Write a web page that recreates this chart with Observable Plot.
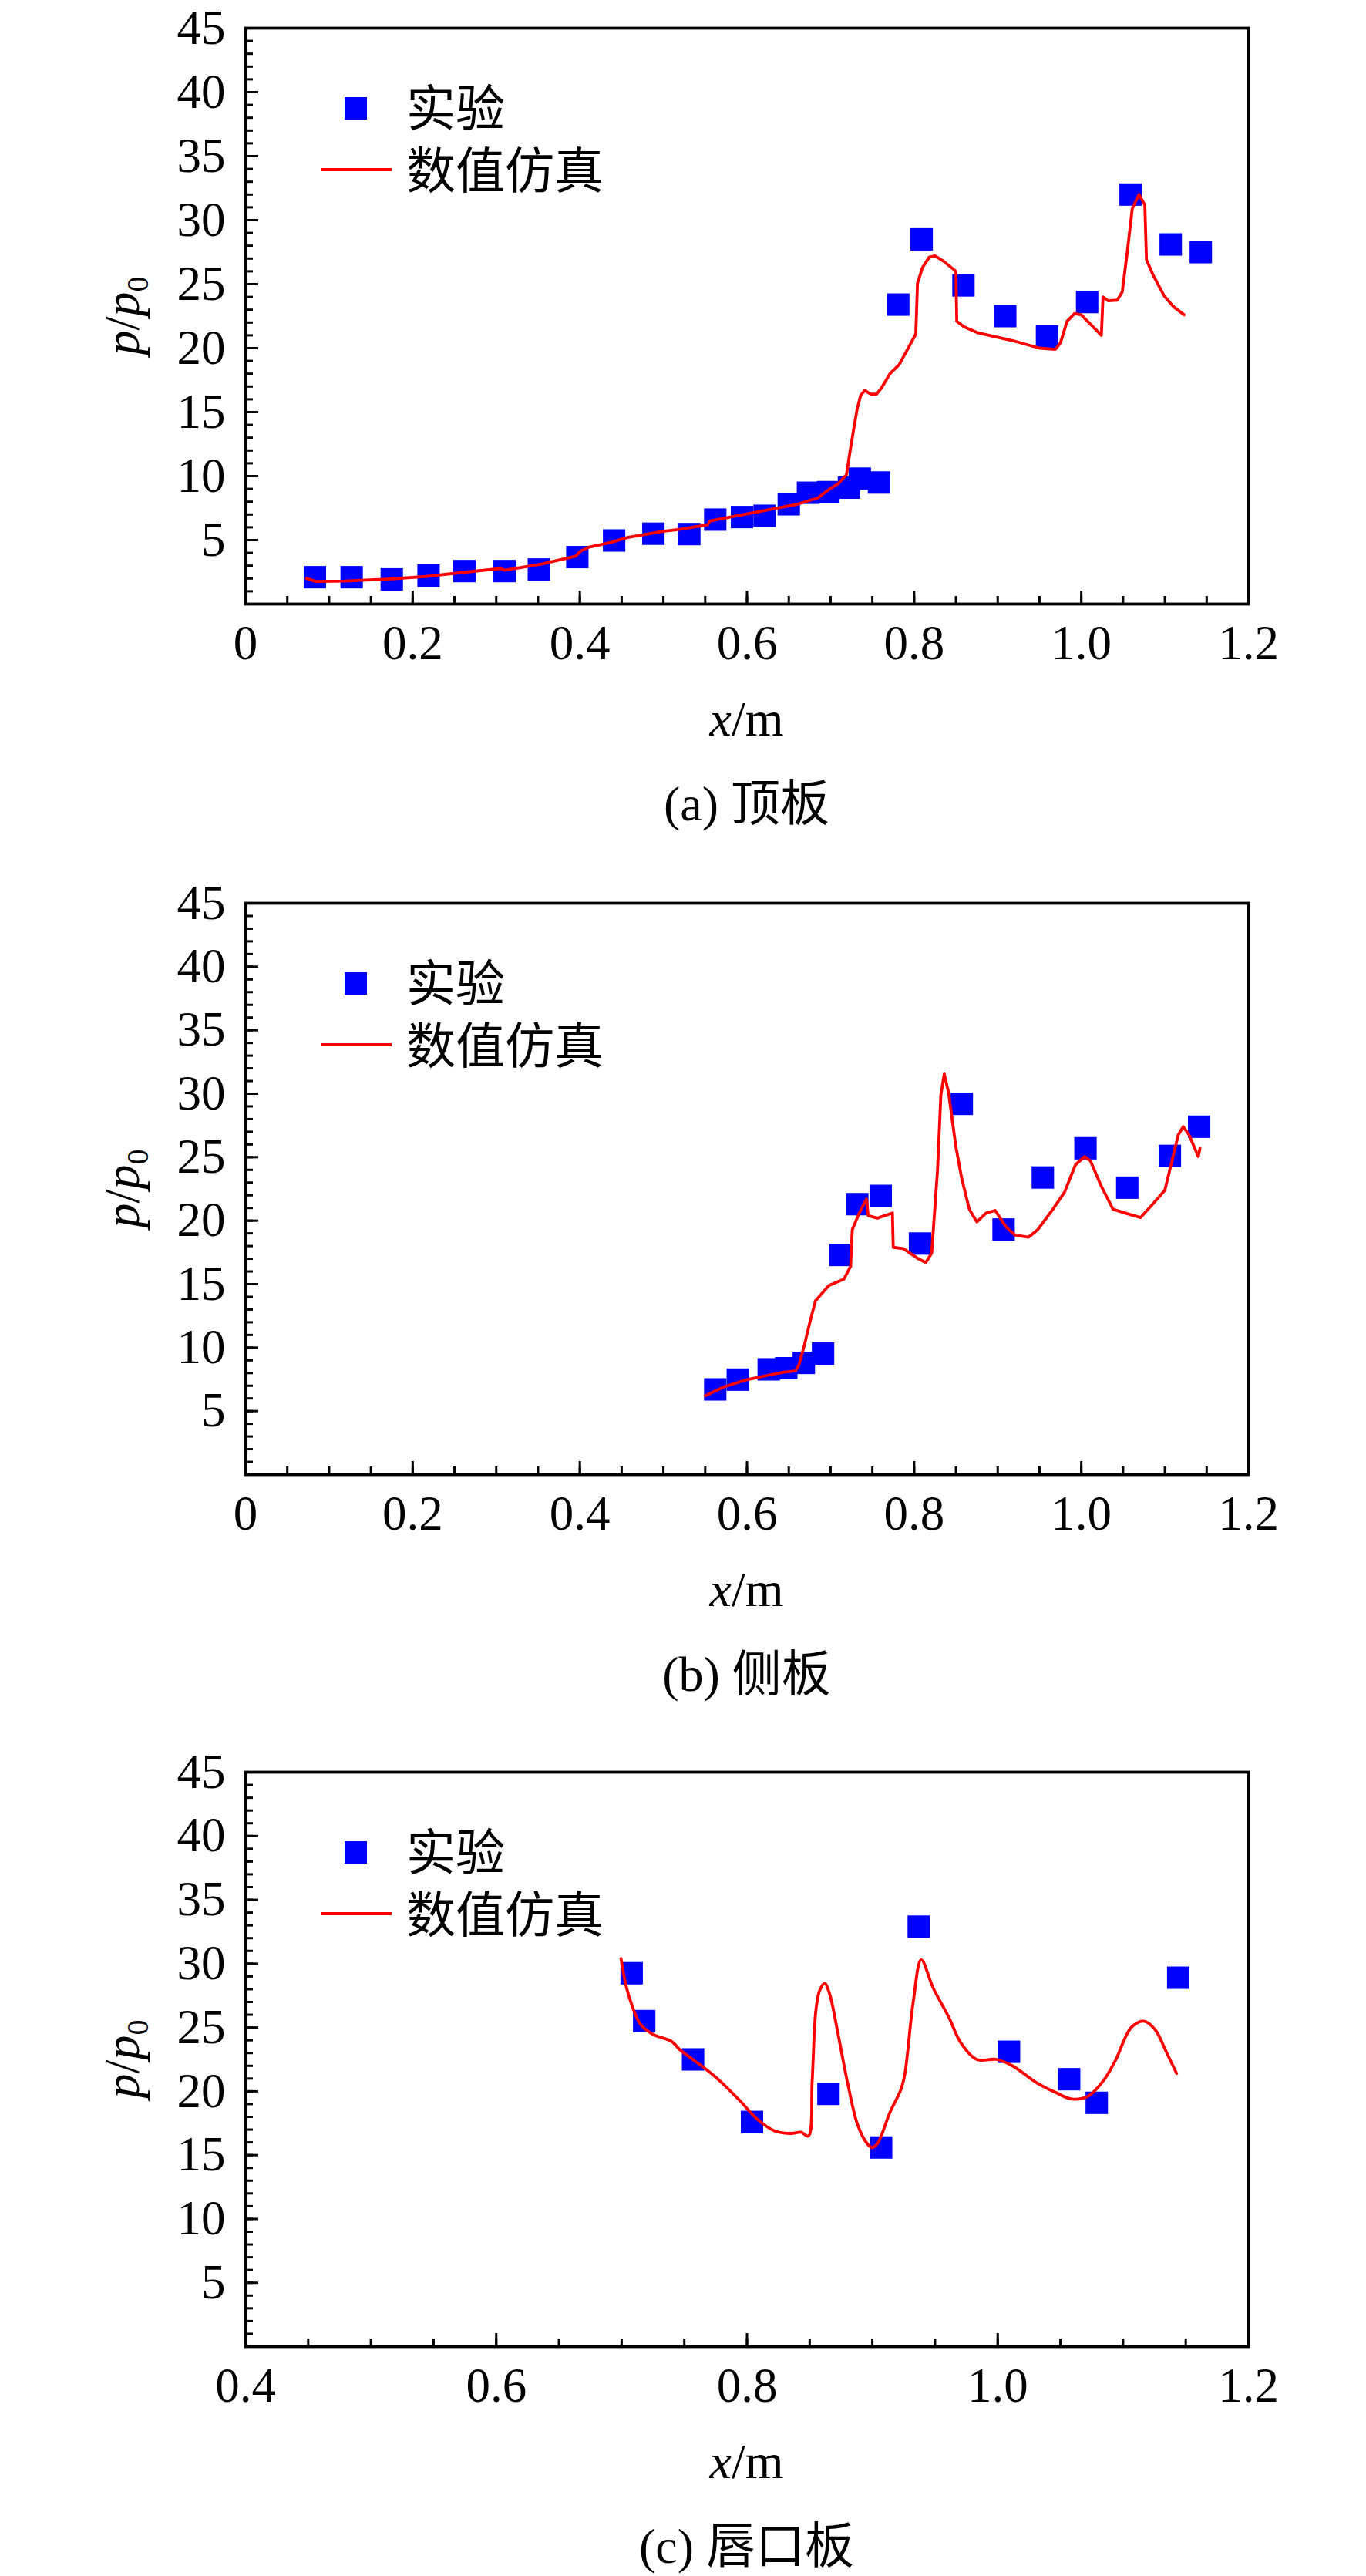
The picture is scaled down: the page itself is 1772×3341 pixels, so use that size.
<!DOCTYPE html>
<html>
<head>
<meta charset="utf-8">
<script src="https://cdn.jsdelivr.net/npm/d3@7"></script>
<script src="https://cdn.jsdelivr.net/npm/@observablehq/plot@0.6"></script>
<style>
  html, body { margin: 0; padding: 0; background: #fff; }
  #page { width: 1772px; height: 3341px; position: relative; overflow: hidden; }
  #page svg { display: block; overflow: visible; }
</style>
</head>
<body>
<div id="page"></div>
<script>
// ---------- Panel (a) 顶板 ----------
const aExpX = [0.083, 0.127, 0.175, 0.219, 0.262, 0.310, 0.351, 0.397, 0.441, 0.488, 0.531, 0.562, 0.594, 0.621, 0.650, 0.673, 0.697, 0.722, 0.735, 0.758, 0.781, 0.809, 0.859, 0.909, 0.959, 1.007, 1.059, 1.107, 1.143];
const aExpY = [2.1, 2.1, 1.93, 2.23, 2.58, 2.58, 2.7, 3.67, 4.97, 5.5, 5.47, 6.6, 6.8, 6.9, 7.8, 8.7, 8.75, 9.1, 9.8, 9.5, 23.4, 28.5, 24.9, 22.5, 20.9, 23.6, 32.0, 28.1, 27.5];
const aSimX = [0.073, 0.084, 0.119, 0.165, 0.214, 0.264, 0.305, 0.310, 0.354, 0.395, 0.401, 0.411, 0.436, 0.457, 0.498, 0.519, 0.553, 0.556, 0.580, 0.620, 0.660, 0.685, 0.697, 0.709, 0.719, 0.723, 0.728, 0.732, 0.736, 0.741, 0.748, 0.755, 0.761, 0.771, 0.782, 0.802, 0.804, 0.810, 0.818, 0.825, 0.835, 0.850, 0.851, 0.860, 0.876, 0.917, 0.950, 0.969, 0.975, 0.983, 0.992, 1.000, 1.024, 1.026, 1.032, 1.043, 1.049, 1.055, 1.061, 1.069, 1.076, 1.078, 1.086, 1.099, 1.111, 1.123];
const aSimY = [2.0, 1.77, 1.8, 1.93, 2.15, 2.5, 2.78, 2.65, 3.13, 3.74, 4.15, 4.45, 4.8, 5.2, 5.67, 5.84, 6.2, 6.5, 6.8, 7.3, 7.8, 8.3, 8.9, 9.4, 10.1, 11.8, 13.8, 15.3, 16.3, 16.7, 16.4, 16.4, 16.9, 18.0, 18.7, 21.1, 25.05, 26.3, 27.1, 27.2, 26.8, 26.0, 22.1, 21.65, 21.2, 20.6, 20.0, 19.9, 20.4, 22.1, 22.7, 22.6, 21.0, 24.0, 23.7, 23.75, 24.4, 27.5, 30.9, 32.0, 31.2, 26.9, 25.7, 24.1, 23.2, 22.6];

// ---------- Panel (b) 侧板 ----------
const bExpX = [0.562, 0.589, 0.626, 0.647, 0.668, 0.691, 0.712, 0.732, 0.760, 0.807, 0.857, 0.907, 0.954, 1.005, 1.055, 1.106, 1.141];
const bExpY = [6.71, 7.48, 8.29, 8.38, 8.8, 9.53, 17.3, 21.3, 21.95, 18.2, 29.2, 19.3, 23.4, 25.7, 22.6, 25.1, 27.4];
const bSimX = [0.550, 0.573, 0.600, 0.627, 0.644, 0.658, 0.662, 0.669, 0.676, 0.682, 0.698, 0.716, 0.724, 0.726, 0.734, 0.743, 0.745, 0.756, 0.774, 0.775, 0.787, 0.805, 0.814, 0.821, 0.828, 0.832, 0.836, 0.841, 0.850, 0.857, 0.866, 0.875, 0.886, 0.897, 0.910, 0.921, 0.937, 0.948, 0.966, 0.980, 0.993, 1.004, 1.011, 1.024, 1.038, 1.055, 1.071, 1.084, 1.100, 1.107, 1.116, 1.122, 1.129, 1.140, 1.142];
const bSimY = [6.21, 6.92, 7.48, 7.85, 8.07, 8.16, 8.6, 10.3, 12.2, 13.7, 14.9, 15.4, 16.4, 19.3, 20.55, 21.7, 20.4, 20.2, 20.6, 17.9, 17.8, 17.0, 16.7, 17.45, 24.0, 29.9, 31.55, 30.15, 25.8, 23.3, 20.9, 19.9, 20.6, 20.8, 19.5, 18.85, 18.7, 19.3, 20.9, 22.25, 24.4, 25.05, 24.7, 22.7, 20.9, 20.55, 20.25, 21.2, 22.4, 24.3, 26.75, 27.4, 26.75, 25.05, 25.7];

// ---------- Panel (c) 唇口板 ----------
const cExpX = [0.708, 0.718, 0.757, 0.804, 0.865, 0.907, 0.937, 1.009, 1.057, 1.079, 1.144];
const cExpY = [29.25, 25.5, 22.5, 17.6, 19.8, 15.6, 32.9, 23.1, 20.95, 19.1, 28.9];
const cSimX = [0.6995, 0.7037, 0.7084, 0.7147, 0.7242, 0.740, 0.746, 0.765, 0.778, 0.794, 0.809, 0.822, 0.835, 0.843, 0.849, 0.852, 0.855, 0.858, 0.862, 0.866, 0.8726, 0.8806, 0.888, 0.8948, 0.8995, 0.904, 0.914, 0.923, 0.926, 0.9326, 0.939, 0.9485, 0.961, 0.9706, 0.9832, 0.999, 1.0117, 1.0306, 1.0464, 1.059, 1.0717, 1.0844, 1.0938, 1.1065, 1.1165, 1.1254, 1.1349, 1.1427];
const cSimY = [30.4, 28.2, 26.7, 25.3, 24.5, 23.9, 23.3, 21.9, 20.85, 19.3, 17.75, 16.9, 16.7, 16.8, 16.5, 20.85, 26.4, 27.9, 28.45, 27.6, 24.5, 20.5, 17.45, 16.05, 15.6, 15.9, 18.35, 20.2, 21.4, 27.0, 30.3, 28.1, 25.8, 23.8, 22.5, 22.5, 22.0, 20.7, 19.9, 19.4, 19.6, 20.85, 22.4, 25.0, 25.5, 24.85, 23.0, 21.4];

// ---------- Axes / text ----------
const yDomain = [0, 45];
const yLabelTicks = [5, 10, 15, 20, 25, 30, 35, 40, 45];
const abXTicks = [0, 0.2, 0.4, 0.6, 0.8, 1.0, 1.2];
const cXTicks = [0.4, 0.6, 0.8, 1.0, 1.2];
const legendLabels = ["实验", "数值仿真"];
const captions = ["(a) 顶板", "(b) 侧板", "(c) 唇口板"];

const FONT = "'Liberation Serif', 'Times New Roman', 'Noto Sans CJK SC', serif";
const FS = 63;
const W = 1772, ML = 318, MR = 153;

function zip(xs, ys) { return xs.map((x, i) => ({x, y: ys[i]})); }

function panel({xDomain, xTicks, exp, sim, curve, caption, height, top, bottom}) {
  const minorX = d3.range(Math.round(xDomain[0] * 20), Math.round(xDomain[1] * 20) + 1).map(i => i / 20);
  const minorY = d3.range(0, 46, 1);
  const majorY = d3.range(0, 46, 5);
  const svg = Plot.plot({
    width: W,
    height,
    marginLeft: ML,
    marginRight: MR,
    marginTop: top,
    marginBottom: height - bottom,
    x: {domain: xDomain},
    y: {domain: yDomain},
    style: {fontFamily: FONT, color: "black", background: "white", overflow: "visible"},
    marks: [
      Plot.axisX(minorX, {tickSize: -10, strokeWidth: 3, fill: "none", label: null}),
      Plot.axisX(xTicks, {tickSize: -17, strokeWidth: 3, fill: "none", label: null}),
      Plot.axisX(xTicks, {tickSize: 0, tickPadding: 27, fontSize: FS, label: null,
        tickFormat: d => d === 0 ? "0" : d.toFixed(1)}),
      Plot.axisY(minorY, {tickSize: -10, strokeWidth: 3, fill: "none", label: null}),
      Plot.axisY(majorY, {tickSize: -17, strokeWidth: 3, fill: "none", label: null}),
      Plot.axisY(yLabelTicks, {tickSize: 0, tickPadding: 26, fontSize: FS, label: null}),
      Plot.dot(zip(exp[0], exp[1]), {x: "x", y: "y", symbol: "square", r: 16.4, fill: "#0000ff"}),
      Plot.line(zip(sim[0], sim[1]), {x: "x", y: "y", stroke: "#ff0000", strokeWidth: 3.8, curve}),
      Plot.frame({stroke: "black", strokeWidth: 3.8})
    ]
  });

  const s = d3.select(svg);
  const cx = ML + (W - ML - MR) / 2;
  const cy = (top + bottom) / 2;

  // y label p/p0
  const yl = s.append("text")
    .attr("transform", `translate(180,${cy}) rotate(-90)`)
    .attr("text-anchor", "middle")
    .attr("font-family", FONT)
    .attr("font-size", 64)
    .attr("fill", "black");
  yl.append("tspan").attr("font-style", "italic").text("p");
  yl.append("tspan").text("/");
  yl.append("tspan").attr("font-style", "italic").text("p");
  yl.append("tspan").attr("font-size", 40).attr("dy", 12).text("0");

  // x label x/m
  const xl = s.append("text")
    .attr("x", cx).attr("y", bottom + 171)
    .attr("text-anchor", "middle")
    .attr("font-family", FONT)
    .attr("font-size", 64)
    .attr("fill", "black");
  xl.append("tspan").attr("font-style", "italic").text("x");
  xl.append("tspan").text("/m");

  // caption
  s.append("text")
    .attr("x", cx).attr("y", bottom + 281)
    .attr("text-anchor", "middle")
    .attr("font-family", FONT)
    .attr("font-size", 64)
    .attr("fill", "black")
    .text(caption);

  // legend
  const lg = s.append("g").attr("text-anchor", "start");
  lg.append("rect")
    .attr("x", 447).attr("y", top + 90).attr("width", 29).attr("height", 29)
    .attr("fill", "#0000ff");
  lg.append("line")
    .attr("x1", 416).attr("x2", 508).attr("y1", top + 184).attr("y2", top + 184)
    .attr("stroke", "#ff0000").attr("stroke-width", 3.8);
  lg.append("text")
    .attr("x", 527).attr("y", top + 127)
    .attr("text-anchor", "start")
    .attr("font-family", FONT).attr("font-size", 64).attr("fill", "black")
    .text(legendLabels[0]);
  lg.append("text")
    .attr("x", 527).attr("y", top + 208)
    .attr("text-anchor", "start")
    .attr("font-family", FONT).attr("font-size", 64).attr("fill", "black")
    .text(legendLabels[1]);

  return svg;
}

const page = document.getElementById("page");
page.appendChild(panel({xDomain: [0, 1.2], xTicks: abXTicks, exp: [aExpX, aExpY], sim: [aSimX, aSimY], curve: "linear", caption: captions[0], height: 1135, top: 36, bottom: 783}));
page.appendChild(panel({xDomain: [0, 1.2], xTicks: abXTicks, exp: [bExpX, bExpY], sim: [bSimX, bSimY], curve: "linear", caption: captions[1], height: 1128, top: 36, bottom: 777}));
page.appendChild(panel({xDomain: [0.4, 1.2], xTicks: cXTicks, exp: [cExpX, cExpY], sim: [cSimX, cSimY], curve: "catmull-rom", caption: captions[2], height: 1078, top: 35, bottom: 780}));
</script>
</body>
</html>
